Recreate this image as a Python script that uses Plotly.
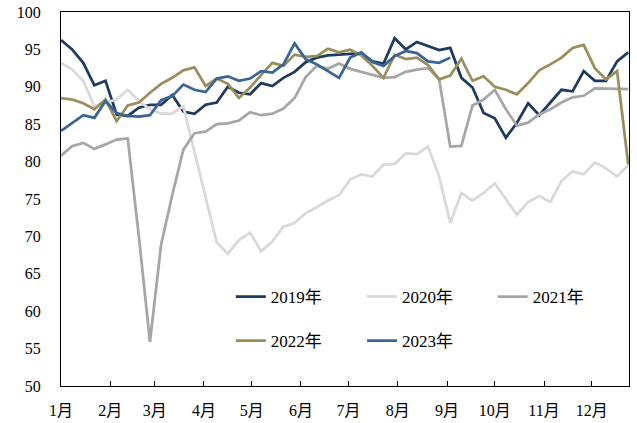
import plotly.graph_objects as go

# weekly index, Jan to Dec
months = ['1月', '2月', '3月', '4月', '5月', '6月', '7月', '8月', '9月', '10月', '11月', '12月']
month_start_days = [0, 31, 59, 90, 120, 151, 181, 212, 243, 273, 304, 334]

y2019 = [96.25, 95.0, 93.2, 90.2, 90.8, 86.3, 86.1, 87.2, 87.6, 87.6,
         88.9, 86.7, 86.4, 87.6, 87.9, 90.0, 89.2, 89.0, 90.5, 90.1,
         91.2, 92.0, 93.3, 93.9, 94.2, 94.3, 94.4, 94.5, 93.4, 93.1,
         96.5, 95.0, 96.0, 95.4, 94.9, 95.2, 91.2, 89.9, 86.5, 85.8,
         83.2, 85.2, 87.8, 86.2, 87.9, 89.6, 89.4, 92.1, 90.8, 90.8,
         93.4, 94.6]
y2020 = [93.2, 92.3, 90.8, 87.4, 87.9, 88.3, 89.6, 88.1, 87.0, 86.4,
         86.4, 87.4, 81.3, 75.3, 69.2, 67.7, 69.5, 70.5, 68.0, 69.3,
         71.3, 71.8, 73.1, 73.9, 74.8, 75.5, 77.6, 78.3, 78.0, 79.6,
         79.7, 81.1, 81.0, 82.0, 78.0, 71.8, 75.8, 74.8, 75.8, 77.1,
         75.0, 72.9, 74.6, 75.4, 74.6, 77.4, 78.7, 78.3, 79.9, 79.1,
         78.0, 79.5]
y2021 = [80.8, 82.05, 82.5, 81.7, 82.3, 82.95, 83.1, 70.0, 55.9, 68.9,
         75.5, 81.6, 83.8, 84.0, 85.0, 85.1, 85.5, 86.6, 86.2, 86.4,
         87.1, 88.5, 91.3, 92.8, 92.4, 93.1, 92.4, 92.0, 91.65, 91.2,
         91.3, 92.0, 92.3, 92.5, 91.0, 82.0, 82.1, 87.5, 88.3, 89.6,
         87.0, 84.8, 85.2, 86.3, 87.0, 87.9, 88.6, 88.8, 89.8, 89.8,
         89.7, 89.7]
y2022 = [88.5, 88.3, 87.8, 87.0, 88.3, 85.4, 87.5, 87.9, 89.2, 90.4,
         91.2, 92.2, 92.6, 90.1, 91.1, 90.4, 88.5, 89.9, 91.6, 93.2,
         92.8, 94.3, 94.0, 94.1, 95.1, 94.6, 94.95, 94.2, 92.8, 91.2,
         94.3, 93.7, 93.9, 92.9, 91.0, 91.5, 93.75, 90.8, 91.4, 90.0,
         89.6, 89.0, 90.5, 92.2, 93.0, 93.9, 95.2, 95.6, 92.5, 91.0,
         92.1, 79.6]
y2023 = [84.1, 85.2, 86.2, 85.85, 88.1, 86.5, 86.1, 86.0, 86.2, 88.2,
         88.75, 90.3, 89.6, 89.3, 91.1, 91.4, 90.8, 91.1, 92.1, 91.9,
         93.0, 95.8, 93.7, 93.0, 92.1, 91.2, 93.9, 94.6, 93.3, 92.8,
         94.1, 94.8, 94.5, 93.4, 93.2, 93.9]

# name, values, colour, legend slot (column, row)
series = [
    ('2019年', y2019, '#1F3A60', 0, 0),
    ('2020年', y2020, '#D9D9D9', 1, 0),
    ('2021年', y2021, '#A6A6A6', 2, 0),
    ('2022年', y2022, '#9A8F5A', 0, 1),
    ('2023年', y2023, '#3A6496', 1, 1),
]

font_family = 'Liberation Serif, Noto Sans CJK SC, serif'
legend_cols = [0.299, 0.530, 0.760]
legend_rows = [0.238, 0.120]

fig = go.Figure()
legends = {}
for i, (name, vals, color, col, row) in enumerate(series):
    key = 'legend' if i == 0 else 'legend%d' % (i + 1)
    days = [7 * k for k in range(len(vals))]
    fig.add_trace(go.Scatter(x=days, y=vals, name=name, mode='lines',
                             line=dict(color=color, width=2.75),
                             legend=key, showlegend=True))
    legends[key] = dict(x=legend_cols[col], y=legend_rows[row],
                        xanchor='left', yanchor='middle',
                        bgcolor='rgba(0,0,0,0)', borderwidth=0,
                        font=dict(family=font_family, size=17, color='#000'),
                        itemwidth=30)

fig.update_layout(
    width=637, height=423,
    margin=dict(l=61, r=8, t=12, b=37),
    showlegend=True,
    paper_bgcolor='white', plot_bgcolor='white',
    font=dict(family=font_family, size=16, color='#000'),
    xaxis=dict(range=[0, 357.5], tickvals=month_start_days, ticktext=months,
               showgrid=False, zeroline=False, showline=True, mirror=True,
               linecolor='#000', linewidth=1.3, ticks='inside', ticklen=5,
               tickcolor='#000', ticklabelstandoff=10, automargin=False),
    yaxis=dict(range=[50, 100], dtick=5, showgrid=False, zeroline=False,
               showline=True, mirror=True, linecolor='#000', linewidth=1.3,
               ticks='', ticklabelstandoff=16, automargin=False,
               ticklabeloverflow='allow'),
    **legends,
)

# drop the default body margin so the figure fills the window
fig.write_html('out.html', config={'displayModeBar': False},
               post_script="document.body.style.margin='0';")
